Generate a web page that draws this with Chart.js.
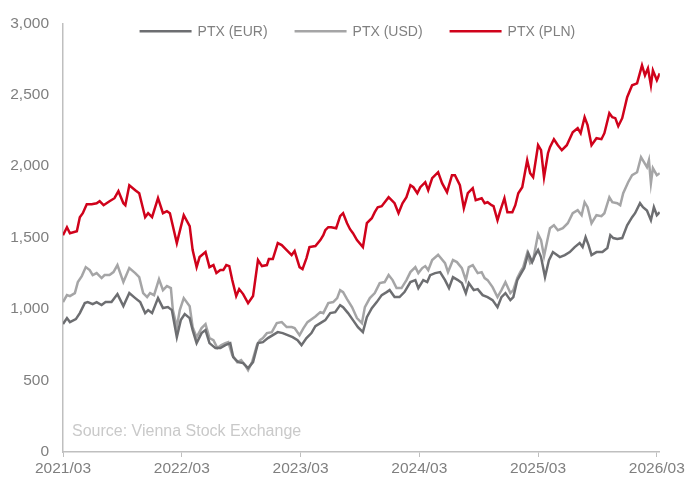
<!DOCTYPE html>
<html>
<head>
<meta charset="utf-8">
<script src="https://cdn.jsdelivr.net/npm/chart.js@4"></script>
<style>
  html, body { margin:0; padding:0; background:#fff; }
  #wrap { width:687px; height:478px; }
</style>
</head>
<body>
<div id="wrap"><canvas id="c" width="687" height="478"></canvas></div>
<script>
// months since 2021/03 and index level
const seriesNames = ['PTX (EUR)', 'PTX (USD)', 'PTX (PLN)'];
const yearLabels = ['2021/03','2022/03','2023/03','2024/03','2025/03','2026/03'];
const sourceNote = 'Source: Vienna Stock Exchange';

const eurMonths = [0.0,0.4,0.7,1.3,1.7,2.2,2.5,3.0,3.4,3.9,4.3,4.9,5.5,6.1,6.7,7.3,7.8,8.3,8.6,9.0,9.6,10.1,10.6,11.0,11.5,11.9,12.3,12.8,13.1,13.5,14.0,14.4,14.8,15.4,15.9,16.4,16.9,17.2,17.7,18.2,18.7,19.2,19.7,20.2,20.7,21.2,21.7,22.2,22.7,23.2,23.7,24.1,24.6,25.1,25.5,26.0,26.5,27.0,27.5,28.0,28.3,28.8,29.3,29.8,30.3,30.7,31.2,31.7,32.2,32.7,33.0,33.5,34.0,34.5,35.1,35.6,35.9,36.4,36.8,37.1,37.6,38.1,38.6,39.0,39.4,39.9,40.3,40.7,41.0,41.5,41.9,42.4,42.9,43.4,43.9,44.3,44.7,45.2,45.5,45.9,46.3,46.6,47.0,47.4,47.7,48.0,48.3,48.7,49.1,49.5,50.2,50.7,51.2,51.7,52.2,52.5,52.8,53.1,53.4,53.9,54.5,55.0,55.3,55.6,56.0,56.5,57.0,57.5,57.8,58.3,58.6,59.0,59.4,59.7,60.0,60.3];
const eurValues = [895,937,909,930,972,1042,1049,1035,1049,1028,1049,1049,1105,1021,1112,1077,1049,972,993,972,1077,1007,1014,993,804,923,965,937,853,762,832,853,762,727,727,748,762,664,629,622,587,629,762,769,797,818,839,832,818,804,783,748,797,832,880,902,923,972,979,1028,1014,972,923,874,839,944,1007,1049,1098,1119,1133,1084,1084,1119,1189,1203,1147,1203,1189,1238,1252,1259,1203,1147,1224,1203,1182,1112,1182,1133,1140,1098,1084,1063,1014,1084,1112,1063,1084,1203,1252,1287,1392,1329,1378,1413,1364,1224,1343,1399,1364,1378,1399,1434,1462,1434,1503,1448,1378,1399,1399,1427,1517,1497,1490,1497,1587,1643,1671,1741,1713,1690,1622,1713,1657,1678];

const usdMonths = [0.0,0.4,0.7,1.2,1.5,1.9,2.3,2.7,3.0,3.4,3.9,4.2,4.7,5.1,5.5,6.1,6.7,7.3,7.7,8.1,8.5,8.8,9.2,9.7,10.1,10.5,10.9,11.1,11.5,11.8,12.2,12.8,13.1,13.5,14.0,14.4,14.8,15.2,15.6,16.0,16.4,16.7,17.1,17.6,18.0,18.4,18.7,19.1,19.6,19.9,20.2,20.6,21.1,21.6,22.1,22.6,23.1,23.4,23.9,24.3,24.7,25.5,26.0,26.3,26.8,27.3,27.7,28.0,28.3,28.7,29.2,29.7,30.2,30.5,31.0,31.5,32.0,32.5,32.9,33.3,33.7,34.2,34.7,35.1,35.6,35.9,36.3,36.6,36.9,37.3,37.9,38.6,38.9,39.4,39.8,40.3,40.7,41.0,41.4,41.9,42.3,42.6,42.9,43.4,43.9,44.3,44.7,45.2,45.5,45.9,46.2,46.5,46.9,47.2,47.5,48.0,48.3,48.6,49.0,49.2,49.6,50.0,50.5,51.0,51.5,52.0,52.4,52.7,53.0,53.4,53.9,54.4,54.7,55.2,55.5,56.0,56.3,56.6,57.1,57.5,58.0,58.4,58.7,59.0,59.2,59.4,59.6,60.0,60.3];
const usdValues = [1049,1098,1091,1112,1189,1231,1294,1273,1238,1252,1217,1238,1238,1259,1308,1189,1287,1252,1224,1112,1084,1112,1098,1210,1133,1161,1147,993,874,993,1077,1020,874,804,867,895,797,783,727,748,762,769,678,629,643,608,573,629,748,783,797,832,839,902,909,874,874,867,818,867,909,948,979,972,1042,1049,1077,1133,1119,1070,1014,937,902,1014,1077,1112,1182,1189,1238,1203,1147,1147,1203,1259,1294,1252,1287,1301,1273,1343,1380,1322,1259,1343,1329,1287,1203,1294,1308,1252,1259,1217,1203,1154,1084,1133,1189,1112,1133,1217,1259,1294,1392,1322,1343,1525,1483,1370,1503,1566,1587,1552,1566,1601,1671,1692,1657,1748,1713,1601,1657,1650,1671,1783,1748,1741,1727,1811,1888,1937,1958,2063,2028,1993,2042,1881,1986,1937,1951];

const plnMonths = [0.0,0.4,0.7,1.4,1.7,2.0,2.4,2.9,3.4,3.7,4.1,4.7,5.2,5.6,6.1,6.3,6.7,7.3,7.7,8.3,8.6,9.0,9.6,10.1,10.5,10.8,11.5,12.2,12.8,13.1,13.5,13.8,14.4,14.8,15.2,15.5,15.9,16.2,16.5,16.8,17.1,17.5,17.8,18.2,18.7,19.2,19.7,20.1,20.6,20.8,21.2,21.7,22.1,22.6,23.1,23.4,23.9,24.2,24.6,24.9,25.5,26.0,26.3,26.5,26.8,27.1,27.6,28.0,28.3,28.7,29.0,29.3,29.7,30.3,30.7,31.2,31.5,31.8,32.2,32.9,33.5,33.9,34.3,34.7,35.1,35.4,35.8,36.1,36.6,36.9,37.3,37.9,38.3,38.8,39.3,39.6,40.1,40.5,40.9,41.4,41.7,42.3,42.6,42.9,43.3,43.5,43.9,44.2,44.6,44.9,45.4,45.7,46.0,46.4,46.9,47.2,47.5,48.0,48.3,48.6,49.0,49.2,49.6,50.0,50.4,50.9,51.5,52.0,52.3,52.7,53.0,53.4,53.9,54.4,54.7,55.2,55.5,55.8,56.1,56.5,57.0,57.5,58.0,58.5,58.8,59.1,59.4,59.6,60.0,60.3];
const plnValues = [1517,1573,1531,1545,1643,1671,1734,1734,1741,1755,1727,1755,1776,1825,1741,1727,1867,1832,1811,1643,1671,1643,1776,1671,1685,1671,1462,1657,1580,1413,1294,1364,1399,1294,1308,1252,1273,1273,1308,1301,1203,1091,1140,1105,1042,1091,1343,1301,1308,1350,1350,1462,1448,1413,1378,1406,1294,1280,1357,1434,1441,1483,1517,1552,1573,1573,1566,1650,1671,1601,1559,1531,1483,1434,1601,1636,1678,1713,1720,1783,1741,1671,1741,1783,1867,1853,1811,1853,1888,1832,1916,1958,1881,1818,1937,1937,1867,1706,1811,1846,1762,1776,1741,1748,1727,1720,1622,1692,1776,1678,1678,1727,1811,1853,2042,1951,1923,2147,2112,1923,2091,2133,2189,2147,2112,2147,2238,2266,2231,2343,2287,2147,2196,2189,2231,2371,2343,2336,2280,2336,2483,2566,2580,2706,2636,2685,2566,2671,2601,2650];

const colors = ['#6d6e71', '#a5a5a6', '#d0021b'];
const FONT = "'Liberation Sans', Arial, sans-serif";

const toPoints = (xs, ys) => xs.map((x, i) => ({ x, y: ys[i] }));

// legend and source note sit inside the plot area, so they are drawn by hand
const overlay = {
  id: 'overlay',
  afterDraw(chart) {
    const { ctx, chartArea } = chart;
    ctx.save();
    ctx.font = '14px ' + FONT;
    ctx.textBaseline = 'middle';
    const lineLen = 52, gap = 6, spacing = 27;
    const widths = chart.data.datasets.map(d => lineLen + gap + ctx.measureText(d.label).width);
    const total = widths.reduce((a, b) => a + b, 0) + spacing * (widths.length - 1);
    let x = (chartArea.left + chartArea.right) / 2 - total / 2 - 4;
    const y = chartArea.top + 8;
    chart.data.datasets.forEach((d, i) => {
      ctx.strokeStyle = d.borderColor;
      ctx.lineWidth = 2.5;
      ctx.beginPath();
      ctx.moveTo(x, y);
      ctx.lineTo(x + lineLen, y);
      ctx.stroke();
      ctx.fillStyle = '#808080';
      ctx.fillText(d.label, x + lineLen + gap, y + 1);
      x += widths[i] + spacing;
    });
    ctx.font = '16px ' + FONT;
    ctx.fillStyle = '#c9c9c9';
    ctx.fillText(sourceNote, chartArea.left + 9, chartArea.bottom - 20);
    ctx.restore();
  }
};

new Chart(document.getElementById('c').getContext('2d'), {
  type: 'line',
  data: {
    datasets: [
      { label: seriesNames[0], data: toPoints(eurMonths, eurValues), borderColor: colors[0] },
      { label: seriesNames[1], data: toPoints(usdMonths, usdValues), borderColor: colors[1] },
      { label: seriesNames[2], data: toPoints(plnMonths, plnValues), borderColor: colors[2] }
    ]
  },
  options: {
    responsive: false, animation: false,
    layout: { padding: { top: 14, right: 27, left: 0, bottom: 0 } },
    elements: { point: { radius: 0 }, line: { borderWidth: 2.5, tension: 0 } },
    plugins: { legend: { display: false }, tooltip: { enabled: false } },
    scales: {
      x: {
        type: 'linear', min: 0, max: 60.3,
        afterBuildTicks: s => { s.ticks = s.ticks.filter(t => t.value % 12 === 0); },
        afterFit: s => { s.height = 26; },
        ticks: {
          stepSize: 12, includeBounds: false, maxRotation: 0, autoSkip: false,
          color: '#7f7f7f', font: { family: FONT, size: 15.5 }, padding: 2,
          callback: v => yearLabels[v / 12]
        },
        grid: { drawOnChartArea: false, drawTicks: true, tickLength: 5, color: '#bfbfbf' },
        border: { color: '#bfbfbf', width: 1.5 }
      },
      y: {
        min: 0, max: 3000,
        afterFit: s => { s.width = 63; },
        ticks: {
          stepSize: 500, color: '#7f7f7f', font: { family: FONT, size: 15.5 }, padding: 14,
          callback: v => v.toLocaleString('en-US')
        },
        grid: { drawOnChartArea: false, drawTicks: false },
        border: { color: '#bfbfbf', width: 1.5 }
      }
    }
  },
  plugins: [overlay]
});
</script>
</body>
</html>
